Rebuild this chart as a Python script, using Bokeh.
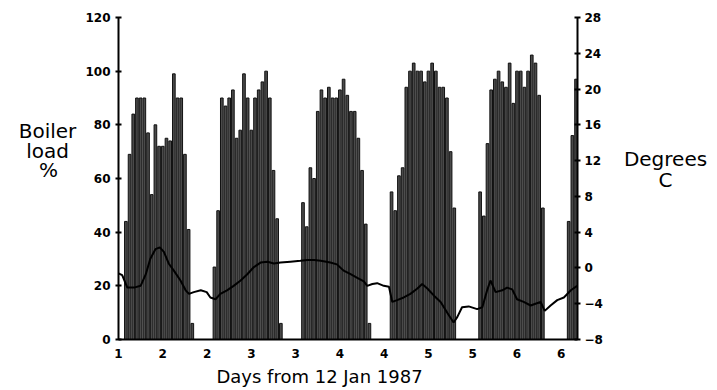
from bokeh.plotting import figure
from bokeh.models import Range1d, LinearAxis, FixedTicker, ColumnDataSource
from bokeh.layouts import row, column
from bokeh.core.properties import value
from bokeh.embed import file_html
from bokeh.resources import INLINE

# ---- data ----
# Boiler load (%) for each hour of operation; hours counted from 00:00 on day 1
block_start_hours = [2, 26, 50, 74, 98, 122]
day1_load = [44, 69, 84, 90, 90, 90, 77, 54, 80, 72, 72, 75, 74, 99, 90, 90, 69, 41, 6]
day2_load = [27, 48, 90, 87, 90, 93, 75, 78, 99, 90, 78, 90, 93, 96, 100, 90, 63, 45, 6]
day3_load = [51, 42, 64, 60, 85, 93, 90, 94, 90, 90, 93, 97, 91, 85, 85, 75, 63, 43, 6]
day4_load = [55, 48, 61, 64, 94, 100, 103, 100, 100, 96, 100, 103, 100, 94, 94, 90, 70, 49]
day5_load = [55, 46, 73, 93, 97, 100, 96, 94, 103, 88, 100, 100, 94, 100, 106, 103, 91, 49]
day6_load = [44, 76, 97]

# Outside temperature (degrees C)
temp_hours = [0, 1.0, 2.4, 4.2, 6.0, 7.4, 8.6, 10.0, 11.2, 12.3, 13.6, 15.0, 16.8, 18.2, 19.1,
              20.4, 22.3, 23.9, 24.9, 26.3, 27.6, 29.4, 31.2, 33.1, 34.9, 36.7, 38.5, 40.4,
              42.1, 43.9, 46.6, 49.3, 51.2, 53.0, 54.8, 57.4, 59.2, 61.0, 62.9, 64.7, 66.5,
              67.4, 68.8, 70.1, 71.9, 73.3, 74.2, 75.5, 77.3, 79.1, 81.0, 82.3, 83.7, 85.5,
              87.3, 89.1, 90.8, 91.8, 93.1, 94.9, 97.2, 98.6, 99.9, 100.8, 102.2, 104.0,
              105.3, 106.7, 108.0, 109.8, 111.7, 113.0, 114.4, 115.5, 117.1, 118.9, 120.7,
              122.6, 124.3]
temp_values = [-0.6, -0.8, -2.2, -2.2, -2.0, -0.7, 1.0, 2.1, 2.3, 1.8, 0.5, -0.3, -1.4, -2.5,
               -2.9, -2.7, -2.5, -2.7, -3.3, -3.5, -2.9, -2.5, -2.0, -1.4, -0.7, 0.1, 0.6, 0.7,
               0.5, 0.6, 0.7, 0.8, 0.9, 0.9, 0.8, 0.6, 0.4, -0.3, -0.7, -1.1, -1.5, -2.0, -1.8,
               -1.7, -2.0, -2.1, -3.8, -3.6, -3.3, -2.9, -2.3, -1.8, -2.3, -3.1, -3.8, -5.0,
               -6.1, -5.5, -4.4, -4.3, -4.6, -4.4, -2.5, -1.4, -2.7, -2.5, -2.2, -2.4, -3.5,
               -3.8, -4.2, -4.0, -3.8, -4.8, -4.2, -3.6, -3.3, -2.5, -2.0]

load_ticks = [0, 20, 40, 60, 80, 100, 120]
temp_ticks = [-8, -4, 0, 4, 8, 12, 16, 20, 24, 28]
x_tick_positions = [1, 1.5, 2, 2.5, 3, 3.5, 4, 4.5, 5, 5.5, 6]
x_tick_labels = ["1", "2", "2", "3", "3", "4", "4", "5", "5", "6", "6"]

left_title = ["Boiler", "load", "%"]
right_title = ["Degrees", "C"]
x_title = "Days from 12 Jan 1987"

# ---- build sources ----
bar_x, bar_top = [], []
for start, block in zip(block_start_hours,
                        [day1_load, day2_load, day3_load, day4_load, day5_load, day6_load]):
    for i, v in enumerate(block):
        bar_x.append(1 + (start + i) / 24.0)
        bar_top.append(v)
bars = ColumnDataSource(dict(x=bar_x, top=bar_top))
temp = ColumnDataSource(dict(x=[1 + h / 24.0 for h in temp_hours], y=temp_values))

ROW_H = 363

p = figure(width=537, height=ROW_H, x_range=Range1d(1, 6.183), y_range=Range1d(0, 120),
           output_backend="svg", toolbar_location=None,
           min_border_left=38, min_border_right=40, min_border_top=17, min_border_bottom=24)
p.extra_y_ranges = {"temp": Range1d(-8, 28)}

p.vbar(x="x", top="top", bottom=0, width=0.72 / 24, source=bars,
       fill_color="#4a4a4a", line_color="#111111", line_width=1)
p.line(x="x", y="y", source=temp, y_range_name="temp", line_color="black", line_width=2)

right = LinearAxis(y_range_name="temp", ticker=FixedTicker(ticks=temp_ticks))
p.add_layout(right, "right")

p.yaxis[0].ticker = FixedTicker(ticks=load_ticks)
p.xaxis[0].ticker = FixedTicker(ticks=x_tick_positions)
p.xaxis[0].major_label_overrides = {float(t): l for t, l in zip(x_tick_positions, x_tick_labels)}

for ax in [p.yaxis[0], right, p.xaxis[0]]:
    ax.axis_line_color = "black"
    ax.axis_line_width = 2
    ax.major_tick_line_color = "black"
    ax.major_tick_line_width = 2
    ax.minor_tick_line_color = None
    ax.major_label_text_font = "DejaVu Sans"
    ax.major_label_text_font_style = "bold"
    ax.major_label_text_font_size = "12px"
    ax.major_label_text_color = "black"

for ax in [p.yaxis[0], right]:
    ax.major_tick_in = 3
    ax.major_tick_out = 3
p.yaxis[0].major_label_standoff = 5
right.major_label_standoff = 4
p.xaxis[0].major_tick_in = 0
p.xaxis[0].major_tick_out = 0
p.xaxis[0].major_label_standoff = 9

p.xgrid.visible = False
p.ygrid.visible = False
p.outline_line_color = None


def text_panel(w, h):
    f = figure(width=w, height=h, x_range=Range1d(0, w), y_range=Range1d(0, h),
               output_backend="svg", toolbar_location=None,
               x_axis_location=None, y_axis_location=None, min_border=0)
    f.xgrid.visible = False
    f.ygrid.visible = False
    f.outline_line_color = None
    return f


def put(f, xs, ys, texts, size):
    f.text(x=xs, y=ys, text=texts, text_align="center", text_baseline="middle",
           text_font=value("DejaVu Sans"), text_font_size=size, text_color="black")


L = text_panel(80, ROW_H)
put(L, [47, 47, 48], [ROW_H - 128, ROW_H - 151, ROW_H - 172], left_title, "20px")

R = text_panel(100, ROW_H)
put(R, [48, 48], [ROW_H - 160, ROW_H - 183], right_title, "20px")

B = text_panel(717, 390 - ROW_H)
put(B, [319], [14], [x_title], "18px")

layout = column(row(L, p, R, spacing=0), B, spacing=0)

open("out.html", "w").write(file_html(layout, INLINE))
